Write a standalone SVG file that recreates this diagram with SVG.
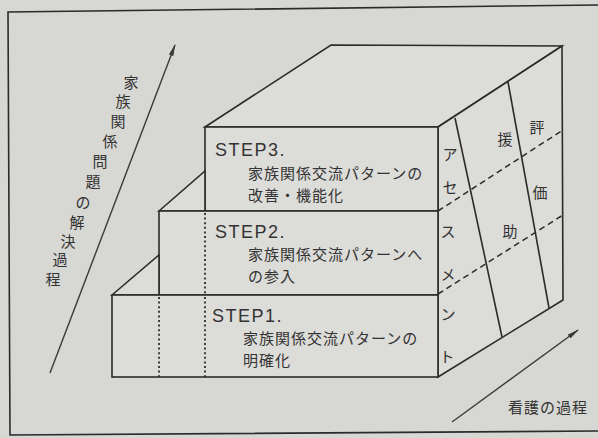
<svg xmlns="http://www.w3.org/2000/svg" width="598" height="438" viewBox="0 0 598 438">
<defs>
<style>
.ln{fill:none;stroke:#2b2b2b;stroke-width:1.6;stroke-linejoin:miter}
.face{fill:#dcdcd8;stroke:#2b2b2b;stroke-width:1.6}
.dot{fill:none;stroke:#2b2b2b;stroke-width:1.8;stroke-dasharray:2 2.6}
.dash{fill:none;stroke:#2b2b2b;stroke-width:1.5;stroke-dasharray:6 4}
.st{font-family:"Liberation Sans",Arial,sans-serif;font-size:18px;letter-spacing:1.5px;fill:#333}
.jp{font-family:"Noto Sans CJK JP","Noto Sans",sans-serif;font-size:15px;letter-spacing:1px;fill:#333}
.jv{font-family:"Noto Sans CJK JP","Noto Sans",sans-serif;font-size:15px;fill:#333;text-anchor:middle}
.ax{fill:none;stroke:#3a3a3a;stroke-width:1.4}
</style>
<marker id="ah" viewBox="0 0 12 6" refX="11" refY="3" markerWidth="12" markerHeight="6" markerUnits="userSpaceOnUse" orient="auto">
<path d="M0,0.6 L12,3 L0,5.4 Z" fill="#3a3a3a"/>
</marker>
</defs>
<rect x="0" y="0" width="598" height="438" fill="#d7d7d3"/>
<path class="ln" d="M598,5 L8,12 L10,435 L598,431"/>

<g id="box-top">
<polygon class="face" points="205,127 331,45 562,46 438,127"/>
</g>
<g id="side-face">
<polygon class="face" points="438,127 562,46 563,300 438,377"/>
<line class="dash" x1="438" y1="211" x2="563" y2="130"/>
<line class="dash" x1="438" y1="294" x2="563" y2="215"/>
<line class="ln" x1="455" y1="118" x2="502" y2="337"/>
<line class="ln" x1="508" y1="82" x2="549" y2="308"/>
<text class="jv" x="450" y="160">ア</text>
<text class="jv" x="450" y="193">セ</text>
<text class="jv" x="448" y="237">ス</text>
<text class="jv" x="448" y="280">メ</text>
<text class="jv" x="448" y="320">ン</text>
<text class="jv" x="447" y="362">ト</text>
<text class="jv" x="505" y="145">援</text>
<text class="jv" x="510" y="237">助</text>
<text class="jv" x="537" y="133">評</text>
<text class="jv" x="540" y="198">価</text>
</g>

<g id="step3">
<rect class="face" x="205" y="127" width="233" height="84"/>
<text class="st" x="215" y="156">STEP3.</text>
<text class="jp" x="248" y="179">家族関係交流パターンの</text>
<text class="jp" x="248" y="201">改善・機能化</text>
</g>
<g id="step2">
<polygon class="face" points="159,211 205,171 205,211"/>
<rect class="face" x="159" y="211" width="279" height="84"/>
<line class="dot" x1="205" y1="213" x2="205" y2="295"/>
<text class="st" x="215" y="238">STEP2.</text>
<text class="jp" x="248" y="260">家族関係交流パターンへ</text>
<text class="jp" x="248" y="282">の参入</text>
</g>
<g id="step1">
<polygon class="face" points="112,295 159,255 159,295"/>
<rect class="face" x="112" y="295" width="326" height="82"/>
<line class="dot" x1="159" y1="297" x2="159" y2="377"/>
<line class="dot" x1="205" y1="297" x2="205" y2="377"/>
<text class="st" x="212" y="322">STEP1.</text>
<text class="jp" x="243" y="344">家族関係交流パターンの</text>
<text class="jp" x="243" y="366">明確化</text>
</g>

<g id="connectors">
<line class="ax" x1="50" y1="373" x2="175" y2="45" marker-end="url(#ah)"/>
<line class="ax" x1="452" y1="422" x2="578" y2="330" marker-end="url(#ah)"/>
</g>

<g id="label-family">
<text class="jv" x="131" y="88">家</text>
<text class="jv" x="123" y="107">族</text>
<text class="jv" x="118" y="127">関</text>
<text class="jv" x="110" y="147">係</text>
<text class="jv" x="100" y="167">問</text>
<text class="jv" x="93" y="187">題</text>
<text class="jv" x="83" y="208">の</text>
<text class="jv" x="77" y="228">解</text>
<text class="jv" x="68" y="247">決</text>
<text class="jv" x="60" y="265">過</text>
<text class="jv" x="53" y="285">程</text>
</g>
<g id="label-nursing">
<text class="jp" x="508" y="413">看護の過程</text>
</g>
</svg>
